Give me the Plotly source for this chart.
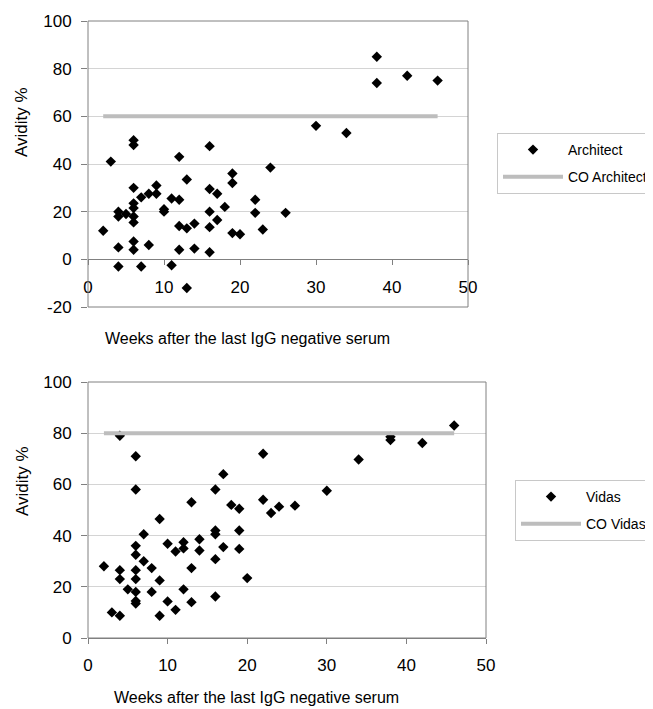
import plotly.graph_objects as go

W, H = 653, 709
OFF = 8  # page body margin of the written html page

# ---- data: Architect (top) ----
arch_weeks = [2, 3, 4, 4, 4, 4, 5,
              6, 6, 6, 6, 6, 6, 6, 6, 6,
              7, 7, 8, 8, 9, 9, 10, 10, 11, 11,
              12, 12, 12, 12, 13, 13, 13, 14, 14,
              16, 16, 16, 16, 16, 17, 17, 18, 19, 19, 19, 20,
              22, 22, 23, 24, 26, 30, 34, 38, 38, 42, 46]
arch_avidity = [12, 41, 20, 18, 5, -3, 19,
                50, 48, 30, 23.5, 21.5, 18, 15.5, 7.5, 4,
                26, -3, 27.5, 6, 31, 27.5, 21, 20, 25.5, -2.5,
                43, 25, 14, 4, 33.5, 13, -12, 15, 4.5,
                47.5, 29.5, 20, 13.5, 3, 27.5, 16.5, 22, 36, 32, 11, 10.5,
                25, 19.5, 12.5, 38.5, 19.5, 56, 53, 85, 74, 77, 75]
arch_co_weeks = [2, 46]
arch_co_value = [60, 60]

# ---- data: Vidas (bottom) ----
vidas_weeks = [2, 3, 4, 4, 4, 4, 5,
               6, 6, 6, 6, 6, 6, 6, 6, 6,
               7, 7, 8, 8, 9, 9, 9, 10, 10, 11, 11,
               12, 12, 12, 13, 13, 13, 14, 14,
               16, 16, 16, 16, 16, 17, 17, 18, 19, 19, 19, 20,
               22, 22, 23, 24, 26, 30, 34, 38, 38, 42, 46]
vidas_avidity = [28, 10, 79, 26.5, 23, 8.7, 19,
                 71, 58, 36, 32.5, 26.5, 23, 18, 14.5, 13.5,
                 40.5, 30, 27.3, 18, 46.5, 22.5, 8.7, 36.8, 14.3, 33.8, 11,
                 37.4, 35, 19, 53, 27.3, 14, 38.6, 34.2,
                 58, 42, 40.5, 30.8, 16.2, 64, 35.5, 52, 50.5, 42, 34.8, 23.4,
                 72, 54, 48.8, 51.3, 51.7, 57.5, 69.7, 78.6, 77.3, 76.2, 83]
vidas_co_weeks = [2, 46]
vidas_co_value = [80, 80]

x_ticks = [0, 10, 20, 30, 40, 50]
top_y_ticks = [-20, 0, 20, 40, 60, 80, 100]
top_y_labels = ["-20", "0", "20", "40", "60", "80", "100"]
bot_y_ticks = [0, 20, 40, 60, 80, 100]

FONT = "Liberation Sans, Arial, sans-serif"
AX = "#808080"
GRID = "#d4d4d4"
CO = "#bdbdbd"


def px(p):
    return (p - OFF) / W


def py(p):
    return 1 - (p - OFF) / H


# plot area pixels (window coordinates)
top_l, top_r, top_t, top_b = 88, 468, 21, 307
bot_l, bot_r, bot_t, bot_b = 88, 486, 382, 638

fig = go.Figure()

fig.add_trace(go.Scatter(x=arch_weeks, y=arch_avidity, mode="markers", name="Architect",
                         marker=dict(symbol="diamond", color="black", size=8),
                         xaxis="x", yaxis="y", legend="legend", legendgroup="a1"))
fig.add_trace(go.Scatter(x=arch_co_weeks, y=arch_co_value, mode="lines", name="CO Architect",
                         line=dict(color=CO, width=4),
                         xaxis="x", yaxis="y", legend="legend", legendgroup="a2"))
fig.add_trace(go.Scatter(x=vidas_weeks, y=vidas_avidity, mode="markers", name="Vidas",
                         marker=dict(symbol="diamond", color="black", size=8),
                         xaxis="x2", yaxis="y2", legend="legend2", legendgroup="b1"))
fig.add_trace(go.Scatter(x=vidas_co_weeks, y=vidas_co_value, mode="lines", name="CO Vidas",
                         line=dict(color=CO, width=4),
                         xaxis="x2", yaxis="y2", legend="legend2", legendgroup="b2"))

top_y0 = py(top_b)
top_y1 = py(top_t)
zero_pos = top_y0 + (0 - (-20)) / 120 * (top_y1 - top_y0)

tickfont = dict(family=FONT, size=17, color="black")

fig.update_layout(
    width=W, height=H,
    margin=dict(l=0, r=0, t=0, b=0, autoexpand=False),
    paper_bgcolor="white", plot_bgcolor="white",
    font=dict(family=FONT, color="black"),
    xaxis=dict(domain=[px(top_l), px(top_r)], range=[0, 50], anchor="free", position=zero_pos,
               tickvals=x_ticks, showgrid=False, zeroline=False,
               showline=True, linecolor=AX, linewidth=1,
               ticks="outside", ticklen=5, tickcolor=AX,
               tickfont=tickfont, ticklabelstandoff=7, automargin=False),
    yaxis=dict(domain=[py(top_b), py(top_t)], range=[-20, 100], anchor="x",
               tickvals=top_y_ticks, ticktext=top_y_labels,
               showgrid=True, gridcolor=GRID, zeroline=False,
               showline=False, ticks="outside", ticklen=6, tickcolor=AX,
               tickfont=tickfont, ticklabelstandoff=6, automargin=False),
    xaxis2=dict(domain=[px(bot_l), px(bot_r)], range=[0, 50], anchor="y2",
                tickvals=x_ticks, showgrid=False, zeroline=False,
                showline=True, linecolor=AX, linewidth=1,
                ticks="outside", ticklen=5, tickcolor=AX,
                tickfont=tickfont, ticklabelstandoff=7, automargin=False),
    yaxis2=dict(domain=[py(bot_b), py(bot_t)], range=[0, 100], anchor="x2",
                tickvals=bot_y_ticks, showgrid=True, gridcolor=GRID, zeroline=False,
                showline=False, ticks="outside", ticklen=6, tickcolor=AX,
                tickfont=tickfont, ticklabelstandoff=6, automargin=False),
    legend=dict(x=px(497), y=py(133), xanchor="left", yanchor="top",
                bgcolor="white", bordercolor="#c8c8c8", borderwidth=1,
                font=dict(family=FONT, size=14, color="black"),
                traceorder="grouped", tracegroupgap=6, itemwidth=60),
    legend2=dict(x=px(515), y=py(480), xanchor="left", yanchor="top",
                 bgcolor="white", bordercolor="#c8c8c8", borderwidth=1,
                 font=dict(family=FONT, size=14, color="black"),
                 traceorder="grouped", tracegroupgap=6, itemwidth=60),
    shapes=[
        dict(type="rect", xref="x domain", yref="y domain", x0=0, x1=1, y0=0, y1=1,
             line=dict(color=AX, width=1), layer="above"),
        dict(type="rect", xref="x2 domain", yref="y2 domain", x0=0, x1=1, y0=0, y1=1,
             line=dict(color=AX, width=1), layer="above"),
    ],
    annotations=[
        dict(text="Avidity %", xref="paper", yref="paper", x=px(22), y=py(122),
             textangle=-90, showarrow=False, font=dict(family=FONT, size=17),
             xanchor="center", yanchor="middle"),
        dict(text="Avidity %", xref="paper", yref="paper", x=px(22), y=py(481),
             textangle=-90, showarrow=False, font=dict(family=FONT, size=17),
             xanchor="center", yanchor="middle"),
        dict(text="Weeks after the last IgG negative serum", xref="paper", yref="paper",
             x=px(247), y=py(339), showarrow=False, font=dict(family=FONT, size=16),
             xanchor="center", yanchor="middle"),
        dict(text="Weeks after the last IgG negative serum", xref="paper", yref="paper",
             x=px(256), y=py(697), showarrow=False, font=dict(family=FONT, size=16),
             xanchor="center", yanchor="middle"),
    ],
)

fig.write_html("out.html")
